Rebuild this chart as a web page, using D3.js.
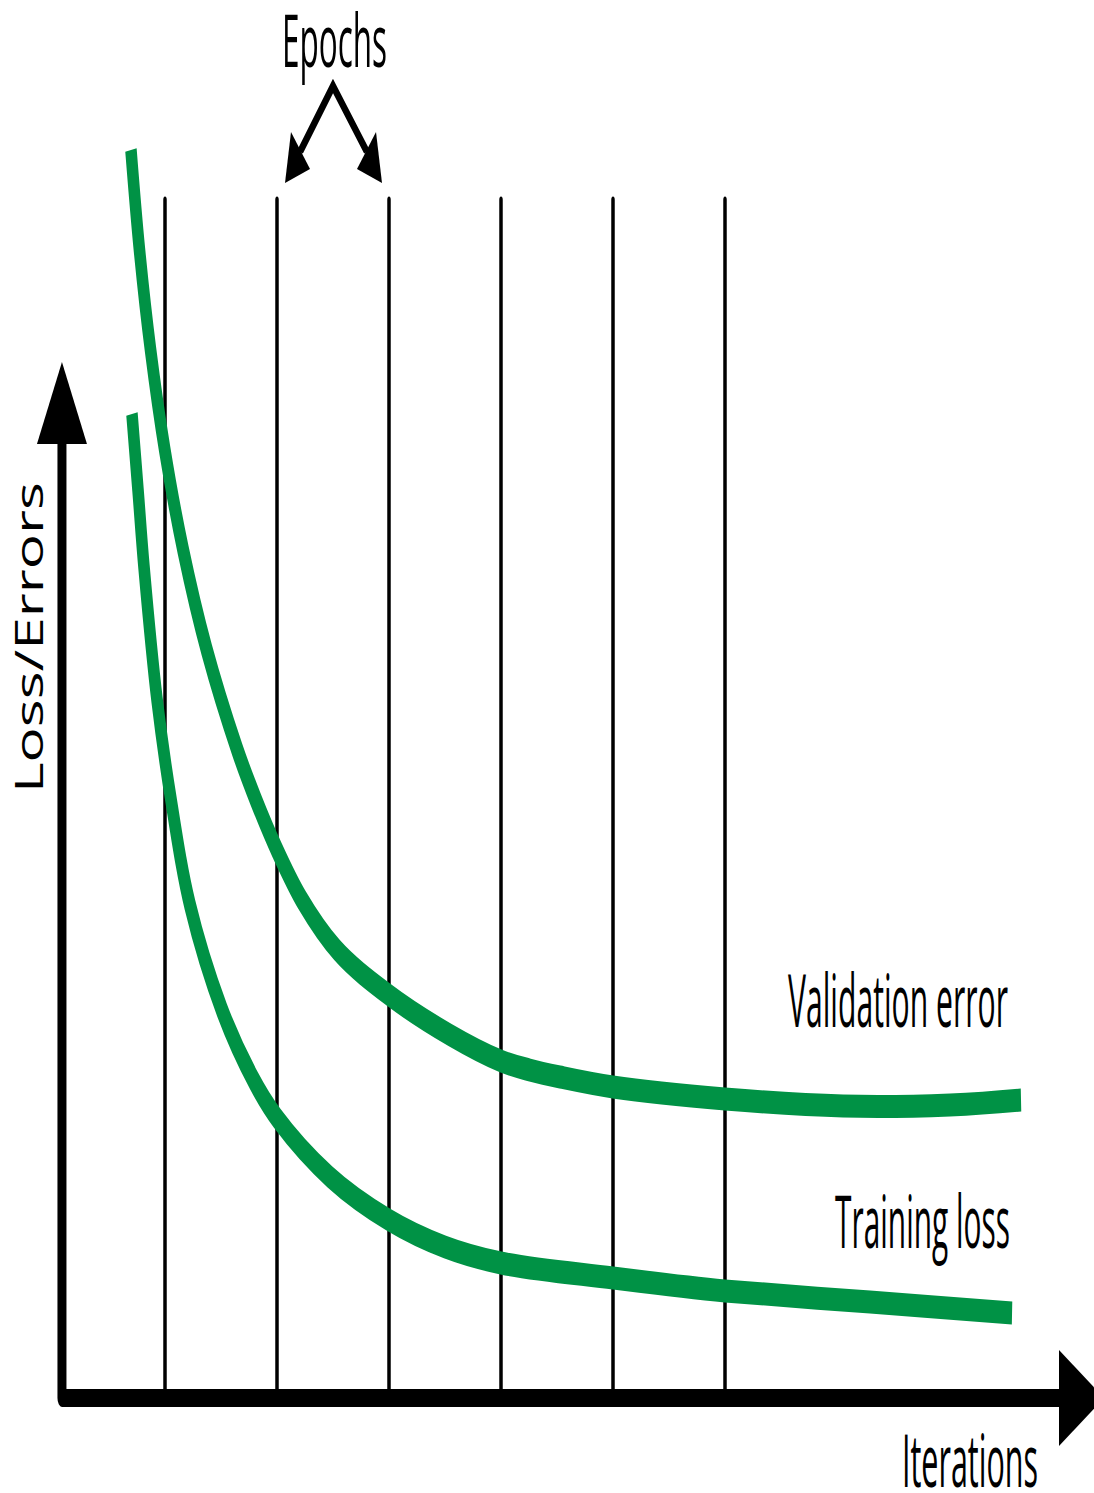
<!DOCTYPE html>
<html>
<head>
<meta charset="utf-8">
<script src="https://cdn.jsdelivr.net/npm/d3@7"></script>
<style>
  html, body { margin: 0; padding: 0; background: #fff; }
  svg { display: block; }
</style>
</head>
<body>
<svg id="chart" width="1094" height="1493"></svg>
<script>
// ---------- data ----------
const epochs = [1, 2, 3, 4, 5, 6];
// validation error: iterations (in epochs) and loss
const validationIter = [0.696, 0.772, 0.871, 0.998, 1.162, 1.373, 1.646, 1.812, 2.0, 2.223, 2.536, 3.0, 3.545, 4.0, 4.259, 4.527, 5.0, 6.0, 7.054, 8.009, 8.643];
const validationLoss = [10.40, 9.567, 8.733, 7.90, 7.067, 6.233, 5.40, 4.983, 4.567, 4.15, 3.733, 3.358, 3.025, 2.808, 2.733, 2.675, 2.592, 2.492, 2.433, 2.442, 2.483];
// training loss
const trainingIter = [0.705, 0.759, 0.8125, 0.929, 1.054, 1.223, 1.509, 1.795, 2.0, 2.473, 3.0, 3.5, 4.0, 5.0, 6.0, 7.295, 8.563];
const trainingLoss = [8.2, 7.567, 6.925, 5.817, 4.983, 4.108, 3.233, 2.642, 2.333, 1.842, 1.483, 1.258, 1.125, 1.0, 0.892, 0.8, 0.708];
const labels = { y: "Loss/Errors", x: "Iterations", epochs: "Epochs", validation: "Validation error", training: "Training loss" };

// ---------- layout ----------
const W = 1094, H = 1493;
const SY = 2;                 // vertical stretch of the drawing
const GREEN = "#009245";
const svg = d3.select("#chart");
svg.append("rect").attr("width", W).attr("height", H).attr("fill", "#fff");

const x = d3.scaleLinear().domain([0, 1]).range([53, 165]);     // 1 epoch = 112px
const y = d3.scaleLinear().domain([0, 10]).range([1398, 198]);
const axisX = x(0.08), axisY = y(0);

const g = svg.append("g").attr("transform", `scale(1,${SY})`);

// epoch lines
g.selectAll("line.epoch").data(epochs).join("line")
  .attr("class", "epoch")
  .attr("x1", d => x(d)).attr("x2", d => x(d))
  .attr("y1", (y(10) + 2) / SY).attr("y2", (axisY - 4) / SY)
  .attr("stroke", "#000").attr("stroke-width", 3.5)
  .attr("stroke-linecap", "round");

// curves
const line = d3.line()
  .x(d => x(d[0])).y(d => y(d[1]) / SY)
  .curve(d3.curveCatmullRom.alpha(0.5));

const valData = validationIter.map((e, i) => [e, validationLoss[i]]);
const trData = trainingIter.map((e, i) => [e, trainingLoss[i]]);

[valData, trData].forEach(d => {
  g.append("path").datum(d).attr("d", line)
    .attr("fill", "none").attr("stroke", GREEN)
    .attr("stroke-width", 11.5).attr("stroke-linecap", "butt");
});

// axes
const yArrowBase = 444, yArrowTip = 362;
const xArrowBase = 1059, xArrowTip = 1104;
g.append("path")
  .attr("d", `M${axisX},${yArrowBase / SY} L${axisX},${axisY / SY} L${xArrowBase + 2},${axisY / SY}`)
  .attr("fill", "none").attr("stroke", "#000").attr("stroke-width", 9)
  .attr("stroke-linejoin", "round");
g.append("path")
  .attr("d", `M${axisX},${yArrowTip / SY} L${axisX + 25},${yArrowBase / SY} L${axisX - 25},${yArrowBase / SY} Z`)
  .attr("fill", "#000");
g.append("path")
  .attr("d", `M${xArrowTip},${axisY / SY} L${xArrowBase},${(axisY - 24 * SY) / SY} L${xArrowBase},${(axisY + 24 * SY) / SY} Z`)
  .attr("fill", "#000");

// Epoch annotation arrows
const apexX = (x(2) + x(3)) / 2, apexY = 86;
const lTip = [x(2) + 8, 183], rTip = [x(3) - 7, 183];
svg.append("path")
  .attr("d", `M${lTip[0] + 15},${152} L${apexX},${apexY} L${rTip[0] - 15},${152}`)
  .attr("fill", "none").attr("stroke", "#000").attr("stroke-width", 6.5)
  .attr("stroke-linejoin", "miter");
svg.append("path")
  .attr("d", `M${lTip[0]},${lTip[1]} L${lTip[0] + 6},${132} L${lTip[0] + 25},${169} Z`)
  .attr("fill", "#000");
svg.append("path")
  .attr("d", `M${rTip[0]},${rTip[1]} L${rTip[0] - 6},${132} L${rTip[0] - 25},${169} Z`)
  .attr("fill", "#000");

// ---------- text ----------
const condFont = "'Open Sans', 'Liberation Sans', sans-serif";
function label(txt, x0, baseline, len, size) {
  const t = svg.append("text").text(txt)
    .attr("x", 0).attr("y", 0)
    .attr("font-family", condFont).attr("font-size", size)
    .attr("fill", "#000");
  const nat = t.node().getComputedTextLength();
  t.attr("transform", `translate(${x0},${baseline}) scale(${len / nat},1)`);
}
label(labels.epochs, 282, 67, 105, 74);
label(labels.validation, 788, 1027, 220, 74);
label(labels.training, 835, 1248, 175, 74);
label(labels.x, 902, 1487, 136, 74);

const yl = svg.append("text").text(labels.y)
  .attr("x", 0).attr("y", 0)
  .attr("font-family", "'Open Sans', sans-serif").attr("font-size", 39)
  .attr("fill", "#000");
const ylNat = yl.node().getComputedTextLength();
yl.attr("transform", `translate(43,793) rotate(-90) scale(${311 / ylNat},1)`);
</script>
</body>
</html>
